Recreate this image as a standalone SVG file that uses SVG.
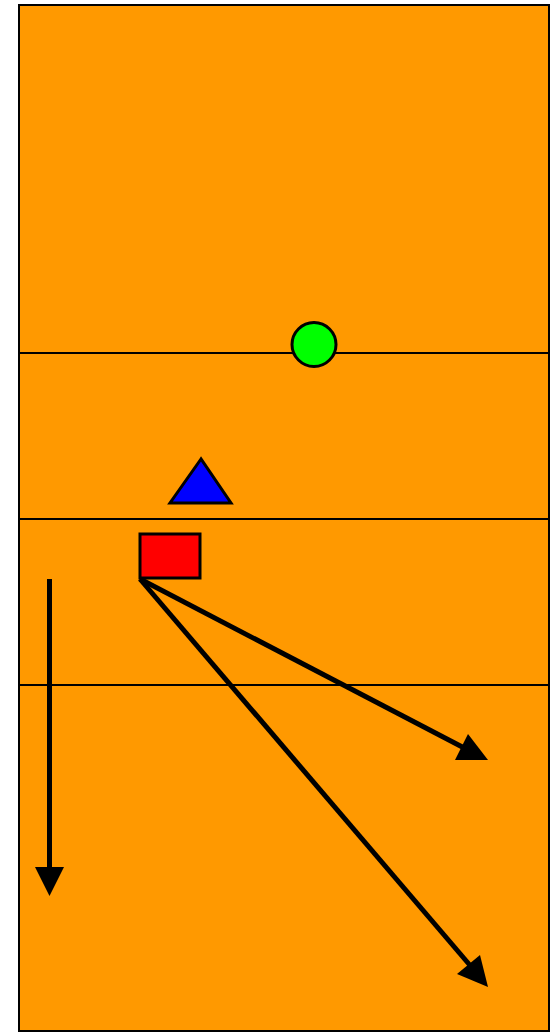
<svg xmlns="http://www.w3.org/2000/svg" width="556" height="1033" viewBox="0 0 556 1033">
<style>
.court{fill:#ff9900;stroke:#000;stroke-width:2}
.zone{stroke:#000;stroke-width:2}
.shape{stroke:#000;stroke-width:3}
.arr{stroke:#000;stroke-width:5;fill:none}
.head{fill:#000}
</style>
<rect class="court" x="19" y="5" width="530" height="1026"/>
<g id="zones">
<line class="zone" x1="19" y1="353" x2="549" y2="353"/>
<line class="zone" x1="19" y1="519" x2="549" y2="519"/>
<line class="zone" x1="19" y1="685" x2="549" y2="685"/>
</g>
<g id="ball"><circle class="shape" cx="314" cy="344.5" r="22" fill="#00ff00"/></g>
<g id="triangle"><polygon class="shape" points="201,459 170,503 231,503" fill="#0000ff"/></g>
<g id="square"><rect class="shape" x="140" y="534" width="60" height="44" fill="#ff0000"/></g>
<g id="connectors">
<line class="arr" x1="49.5" y1="579" x2="49.5" y2="870"/>
<polygon class="head" points="35,867 64,867 49.5,896"/>
<line class="arr" x1="140" y1="579" x2="470" y2="751"/>
<polygon class="head" points="455,760 468,734 488,760"/>
<line class="arr" x1="140" y1="579" x2="474" y2="970"/>
<polygon class="head" points="457,974 480,955 488,987"/>
</g>
</svg>
